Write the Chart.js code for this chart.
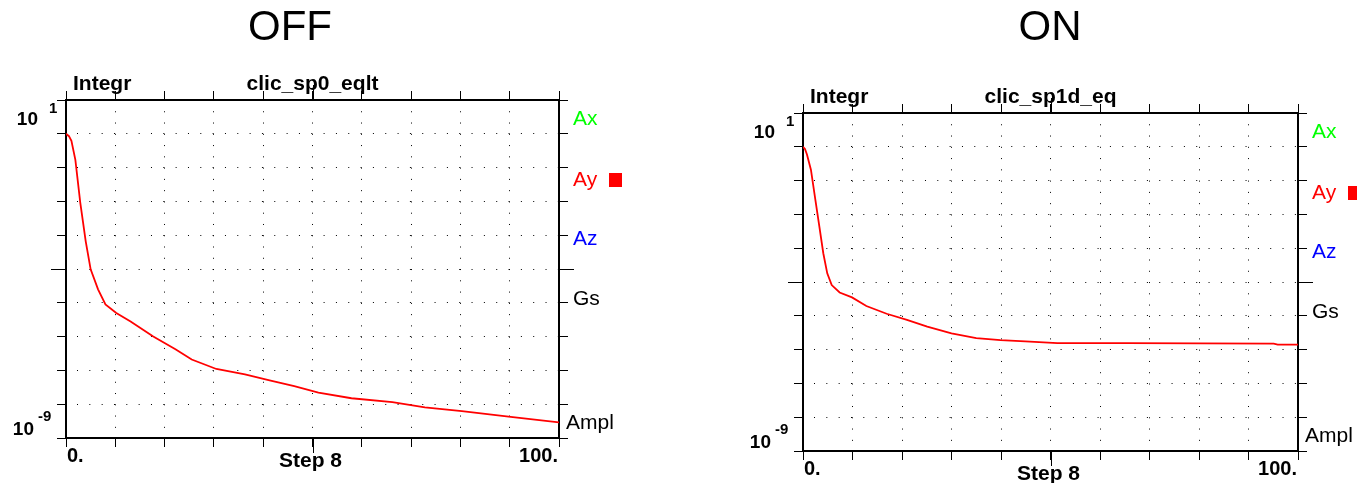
<!DOCTYPE html>
<html>
<head>
<meta charset="utf-8">
<script src="https://cdn.jsdelivr.net/npm/chart.js@4.4.1/dist/chart.umd.min.js"></script>
<style>
  body { margin: 0; background: #fff; }
  #page { position: relative; width: 1357px; height: 483px; overflow: hidden; background: #fff; }
  canvas { position: absolute; top: 0; }
  .head { position: absolute; top: 0; font: 42px "Liberation Sans", Arial, sans-serif; line-height: 52px; transform: translateX(-50%); color: #000; }
</style>
</head>
<body>
<div id="page">
  <canvas id="off" width="680" height="483" style="left:0"></canvas>
  <canvas id="on" width="677" height="483" style="left:680px"></canvas>
  <div class="head" style="left:290px">OFF</div>
  <div class="head" style="left:1050px">ON</div>
</div>
<script>
// decade ticks of the amplitude axis
const decades = [1e-9, 1e-8, 1e-7, 1e-6, 1e-5, 1e-4, 1e-3, 1e-2, 1e-1, 1, 10];

// OFF run (clic_sp0_eqlt)
const offStep = [0, 0.6, 1.1, 1.9, 2.9, 4.0, 5.0, 6.5, 8.0, 10.2, 13.1, 17.7, 22.2, 25.5, 30.5, 36.3, 41.3, 46.3, 51.2, 57.9, 66.2, 72.8, 80.3, 90.2, 100];
const offAmpl = [1, 0.85, 0.62, 0.17, 9.1e-3, 6.6e-4, 9.8e-5, 2.5e-5, 8.9e-6, 5.0e-6, 2.8e-6, 1.0e-6, 4.2e-7, 2.1e-7, 1.1e-7, 7.6e-8, 5.1e-8, 3.4e-8, 2.2e-8, 1.5e-8, 1.15e-8, 8.1e-9, 6.2e-9, 4.2e-9, 2.9e-9];

// ON run (clic_sp1d_eq)
const onStep = [0, 0.4, 0.8, 1.6, 2.5, 3.3, 4.1, 4.9, 5.8, 7.4, 9.9, 12.8, 16.9, 21.0, 25.1, 30.0, 35.0, 39.9, 44.9, 51.4, 65.4, 95.1, 95.9, 100];
const onAmpl = [1, 0.86, 0.59, 0.21, 2.7e-2, 4.4e-3, 7.1e-4, 1.8e-4, 8.1e-5, 4.9e-5, 3.5e-5, 1.95e-5, 1.15e-5, 7.6e-6, 4.8e-6, 3.0e-6, 2.2e-6, 1.9e-6, 1.75e-6, 1.55e-6, 1.55e-6, 1.5e-6, 1.4e-6, 1.4e-6];

const sideLabels = ['Ax', 'Ay', 'Az', 'Gs', 'Ampl'];
const sideColors = ['#00ff00', '#ff0000', '#0000ff', '#000000', '#000000'];
const sideBase = [25, 86, 145, 205]; // baselines below the frame top, Ampl sits on the bottom

const FONT = '"Liberation Sans", Arial, sans-serif';

// frame decoration: long middle ticks and all the labels round the box
const frame = {
  id: 'frame',
  afterDraw(chart, args, opts) {
    const { ctx, chartArea: a, scales } = chart;
    ctx.save();
    ctx.strokeStyle = '#000';
    ctx.lineWidth = 1;
    const xm = Math.round(scales.x.getPixelForValue(50)) + 0.5;
    const ym = Math.round(scales.y.getPixelForValue(1e-4)) + 0.5;
    ctx.beginPath();
    ctx.moveTo(xm, a.top - 15); ctx.lineTo(xm, a.top);
    ctx.moveTo(xm, a.bottom); ctx.lineTo(xm, a.bottom + 15);
    ctx.moveTo(a.left - 15, ym); ctx.lineTo(a.left, ym);
    ctx.moveTo(a.right, ym); ctx.lineTo(a.right + 15, ym);
    ctx.stroke();

    ctx.fillStyle = '#000';
    ctx.textBaseline = 'alphabetic';
    // y range labels
    ctx.font = 'bold 19px ' + FONT;
    ctx.textAlign = 'right';
    ctx.fillText('10', a.left - 28, a.top + 25);
    ctx.fillText('10', a.left - 32, a.bottom - 3);
    ctx.font = 'bold 15px ' + FONT;
    ctx.textAlign = 'left';
    ctx.fillText('1', a.left - 17, a.top + 13);
    ctx.fillText('-9', a.left - 28, a.bottom - 17);

    // top labels
    ctx.font = 'bold 21px ' + FONT;
    ctx.textAlign = 'left';
    ctx.fillText('Integr', a.left + 7, a.top - 10);
    ctx.textAlign = 'center';
    ctx.fillText(opts.name, (a.left + a.right) / 2, a.top - 10);

    // bottom labels
    ctx.fillText('Step 8', (a.left + a.right) / 2 - 2, a.bottom + 29);
    ctx.font = 'bold 20px ' + FONT;
    ctx.textAlign = 'left';
    ctx.fillText('0.', a.left + 1, a.bottom + 24);
    ctx.textAlign = 'right';
    ctx.fillText('100.', a.right - 1, a.bottom + 24);

    // right side legend
    ctx.font = '21px ' + FONT;
    ctx.textAlign = 'left';
    sideLabels.forEach((t, i) => {
      ctx.fillStyle = sideColors[i];
      if (i < 4) ctx.fillText(t, a.right + 14, a.top + sideBase[i]);
      else ctx.fillText(t, a.right + 7, a.bottom - 9);
    });
    ctx.fillStyle = '#ff0000';
    ctx.fillRect(a.right + 50, a.top + 73, 13, 14);
    ctx.restore();
  }
};

function makeChart(id, name, steps, ampl, box) {
  const setH = h => s => { s.height = h; };
  const setW = w => s => { s.width = w; };
  const border = { color: '#000', width: 2 };
  const sideGrid = { drawOnChartArea: false, tickLength: 9, tickColor: '#000', tickWidth: 1, tickBorderDash: [] };
  const decadeTicks = s => { s.ticks = decades.map(value => ({ value })); };
  return new Chart(document.getElementById(id), {
    type: 'line',
    data: {
      datasets: [{
        data: steps.map((x, i) => ({ x, y: ampl[i] })),
        borderColor: '#ff0000',
        borderWidth: 1.8,
        pointRadius: 0,
        tension: 0
      }]
    },
    options: {
      responsive: false,
      animation: false,
      layout: { padding: 0 },
      plugins: { legend: { display: false }, tooltip: { enabled: false }, frame: { name } },
      scales: {
        x: {
          type: 'linear', position: 'bottom', min: 0, max: 100,
          ticks: { display: false, stepSize: 10 },
          grid: { color: '#000', lineWidth: 1, tickLength: 9, tickColor: '#000', tickWidth: 1, tickBorderDash: [] },
          border: { ...border, dash: [1, 10.27] },
          afterFit: setH(box.bottom)
        },
        xTop: {
          type: 'linear', position: 'top', min: 0, max: 100,
          ticks: { display: false, stepSize: 10 },
          grid: sideGrid, border,
          afterFit: setH(box.top)
        },
        y: {
          type: 'logarithmic', position: 'left', min: 1e-9, max: 10,
          afterBuildTicks: decadeTicks,
          ticks: { display: false },
          grid: { color: '#000', lineWidth: 1, tickLength: 9, tickColor: '#000', tickWidth: 1, tickBorderDash: [] },
          border: { ...border, dash: [1, 11.33], dashOffset: 2.33 },
          afterFit: setW(box.left)
        },
        yRight: {
          type: 'logarithmic', position: 'right', min: 1e-9, max: 10,
          afterBuildTicks: decadeTicks,
          ticks: { display: false },
          grid: sideGrid, border,
          afterFit: setW(box.right)
        }
      }
    },
    plugins: [frame]
  });
}

makeChart('off', 'clic_sp0_eqlt', offStep, offAmpl, { left: 66, right: 121, top: 100, bottom: 45 });
makeChart('on', 'clic_sp1d_eq', onStep, onAmpl, { left: 123, right: 59, top: 113, bottom: 32 });
</script>
</body>
</html>
